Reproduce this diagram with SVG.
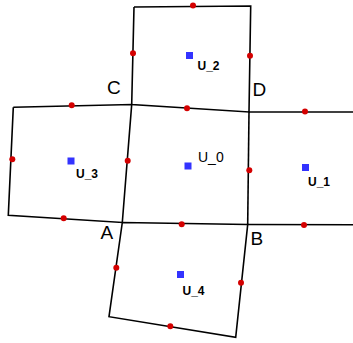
<svg xmlns="http://www.w3.org/2000/svg" width="353" height="343" viewBox="0 0 353 343">
<style>
.e{fill:none;stroke:#000;stroke-width:1.6;stroke-linejoin:miter}
.d{fill:#d40000}
.u{fill:#3333ff}
.pl{font-family:"Liberation Sans",Arial,sans-serif;font-size:19px;fill:#000}
.ul{font-family:"Liberation Sans",Arial,sans-serif;font-size:12px;font-weight:bold;fill:#000}
.u0{font-family:"Liberation Sans",Arial,sans-serif;font-size:14px;fill:#000}
</style>
<g id="connectors">
<polyline class="e" points="134,7 250.7,6 249,112 131.7,104.5 134,7"/>
<polyline class="e" points="13.3,107.3 131.7,104.5 122.3,222.5 8.3,215.3 13.3,107.3"/>
<polyline class="e" points="249,112 353,112"/>
<polyline class="e" points="247.7,224.5 353,224.7"/>
<polyline class="e" points="249,112 247.7,224.5"/>
<polyline class="e" points="122.3,222.5 247.7,224.5 235.7,337.3 109,316.7 122.3,222.5"/>
</g>
<g id="edge-points">
<circle class="d" cx="193" cy="5.5" r="3"/>
<circle class="d" cx="133" cy="53.3" r="3"/>
<circle class="d" cx="250" cy="55.7" r="3"/>
<circle class="d" cx="187" cy="108.3" r="3"/>
<circle class="d" cx="71.7" cy="105.3" r="3"/>
<circle class="d" cx="12.3" cy="159.3" r="3"/>
<circle class="d" cx="127.7" cy="160.7" r="3"/>
<circle class="d" cx="63.7" cy="218.3" r="3"/>
<circle class="d" cx="305" cy="111.5" r="3"/>
<circle class="d" cx="249.3" cy="170.3" r="3"/>
<circle class="d" cx="304" cy="225" r="3"/>
<circle class="d" cx="181.7" cy="224.2" r="3"/>
<circle class="d" cx="116.3" cy="267.7" r="3"/>
<circle class="d" cx="241" cy="282.7" r="3"/>
<circle class="d" cx="170.3" cy="326.3" r="3"/>
</g>
<g id="U_0"><rect class="u" x="184.5" y="162.5" width="7" height="7"/><text class="u0" x="198" y="162">U_0</text></g>
<g id="U_1"><rect class="u" x="302" y="164" width="7" height="7"/><text class="ul" x="308" y="186">U_1</text></g>
<g id="U_2"><rect class="u" x="186" y="52" width="7" height="7"/><text class="ul" x="197.5" y="70">U_2</text></g>
<g id="U_3"><rect class="u" x="67.5" y="157.5" width="7" height="7"/><text class="ul" x="76" y="178">U_3</text></g>
<g id="U_4"><rect class="u" x="177" y="271" width="7" height="7"/><text class="ul" x="182.5" y="295">U_4</text></g>
<g id="A"><text class="pl" x="100.5" y="239">A</text></g>
<g id="B"><text class="pl" x="250.5" y="245">B</text></g>
<g id="C"><text class="pl" x="107" y="94">C</text></g>
<g id="D"><text class="pl" x="252.5" y="96">D</text></g>
</svg>
